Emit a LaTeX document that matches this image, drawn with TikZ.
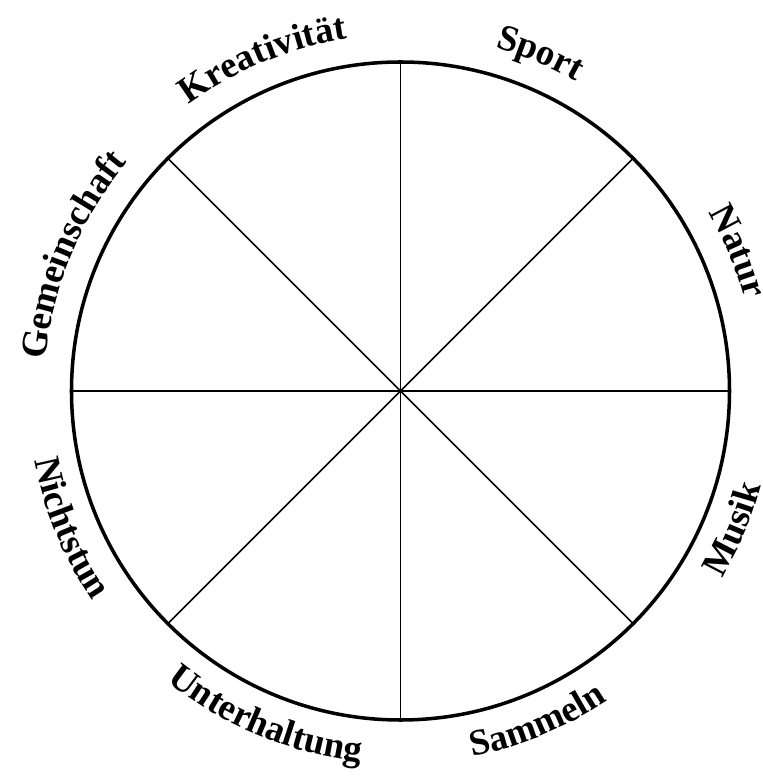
\documentclass[tikz,border=0pt]{standalone}
\usepackage{fontspec}
\setmainfont{Liberation Serif}
\usetikzlibrary{decorations.text}

\newcommand{\wheelfont}{\fontsize{21}{25}\selectfont\bfseries}

\begin{document}
\begin{tikzpicture}[
  wheel/.style={line width=2pt},
  spoke/.style={line width=0.95pt},
  wheellabel/.style={decorate, decoration={text along path, text align=center, text={|\wheelfont|#1}}}]

\useasboundingbox (-8.01,-7.8) rectangle (7.23,7.82);

% Outer circle and the eight spokes
\draw[wheel] (0,0) circle (6.58);
\foreach \a in {0,45,...,315}
  \draw[spoke] (0,0) -- (\a:6.58);

% Upper labels: clockwise arcs, letters point outward
\path[wheellabel=Gemeinschaft] (180:7.12) arc[start angle=180, end angle=135, radius=7.12];
\path[wheellabel=Kreativität] (135:7.12) arc[start angle=135, end angle=90, radius=7.12];
\path[wheellabel=Sport] (90:7.12) arc[start angle=90, end angle=45, radius=7.12];
\path[wheellabel=Natur] (45:7.12) arc[start angle=45, end angle=0, radius=7.12];

% Lower labels: counterclockwise arcs, letters point inward
\path[wheellabel=Nichtstun] (-180:7.45) arc[start angle=-180, end angle=-135, radius=7.45];
\path[wheellabel=Unterhaltung] (-135:7.45) arc[start angle=-135, end angle=-90, radius=7.45];
\path[wheellabel=Sammeln] (-90:7.45) arc[start angle=-90, end angle=-45, radius=7.45];
\path[wheellabel=Musik] (-45:7.45) arc[start angle=-45, end angle=0, radius=7.45];

\end{tikzpicture}
\end{document}
